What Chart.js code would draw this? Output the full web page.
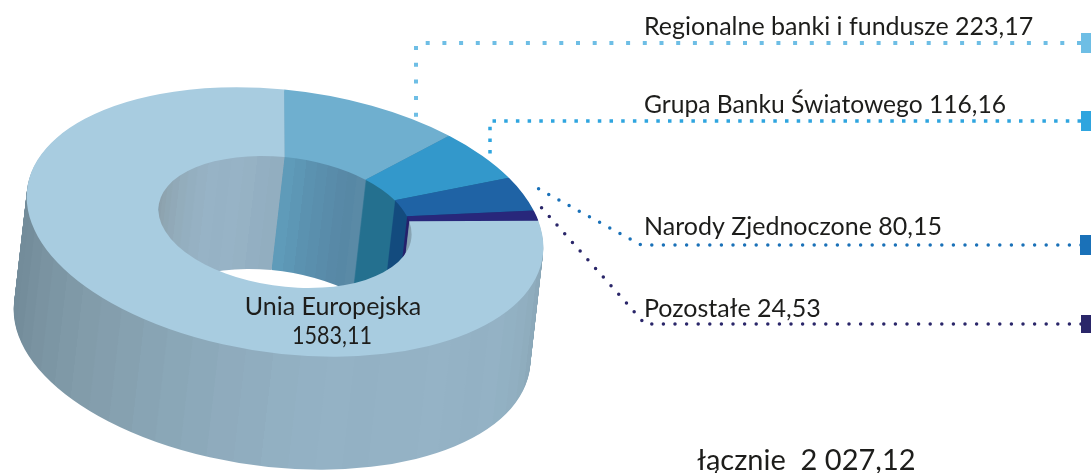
<!DOCTYPE html>
<html lang="pl">
<head>
<meta charset="utf-8">
<title>Wykres</title>
<script src="https://cdn.jsdelivr.net/npm/chart.js@4"></script>
<style>
  html, body { margin: 0; padding: 0; background: #fff; overflow: hidden; }
  canvas { display: block; }
</style>
</head>
<body>
<canvas id="chart-donut" width="1091" height="473"></canvas>
<script>
/* Chart values, clockwise from the top of the ring */
const categories = ['Regionalne banki i fundusze', 'Grupa Banku Światowego', 'Narody Zjednoczone', 'Pozostałe', 'Unia Europejska'];
const values = [223.17, 116.16, 80.15, 24.53, 1583.11];
const valueLabels = ['223,17', '116,16', '80,15', '24,53', '1583,11'];
const totalLabel = 'łącznie  2 027,12';

/* Colour palette */
const topColours = ['#6FAFCF', '#3398CB', '#1F63A5', '#28277B', '#A8CCE0'];
const leaderColours = ['#6EBEE5', '#2FA5DF', '#1A71B8', '#2A2669'];

/* Wall shades per slice, one hard band each, in slice order */
const wallShades = [
  ['#5f9bb9', '#5d97b5', '#5b92b0', '#5a8fad', '#598caa', '#5889a7', '#5788a5', '#5a8aa6'],
  ['#24708f'],
  ['#134b7e'],
  ['#25206b'],
  ['#86a2b1', '#88a4b4', '#8aa7b7', '#8ca9ba', '#8fadbe', '#91afc1', '#92b1c3', '#94b2c5',
   '#93b1c4', '#94b2c5', '#95b3c6', '#94b2c5', '#94b2c5', '#93b1c4', '#94b2c5', '#93b1c4',
   '#92b0c2', '#90adbf', '#8fabbd', '#8ca9ba', '#8aa7b7', '#88a4b4', '#86a1b0', '#849ead',
   '#829caa', '#7f99a7', '#7c96a4', '#7a93a1', '#77909e', '#748d9b', '#738c9a', '#738c9a',
   '#8a9ea9', '#8ca1ad', '#8ea4b0', '#8fa7b4', '#91a9b8', '#93adbc', '#94afc0', '#96b1c3',
   '#97b3c6', '#96b2c5', '#97b3c6', '#96b2c4', '#93afc2', '#92aec0']
];

/* Ring projection: ellipse centre, semi axes, tilt, extrusion */
const RING = { cx: 285, cy: 222, a: 260, b: 131.5, tilt: 7.5 * Math.PI / 180, dx: -13, dy: 113 };

function applyProjection(ctx, arc, dx, dy) {
  ctx.translate(RING.cx + dx, RING.cy + dy);
  ctx.rotate(RING.tilt);
  ctx.scale(RING.a / arc.outerRadius, RING.b / arc.outerRadius);
  ctx.translate(-arc.x, -arc.y);
}

function wallGradient(ctx, arc, shades) {
  const grad = ctx.createConicGradient(arc.startAngle, arc.x, arc.y);
  const span = (arc.endAngle - arc.startAngle) / (2 * Math.PI);
  shades.forEach(function(colour, i) {
    grad.addColorStop(i / shades.length * span, colour);
    grad.addColorStop((i + 1) / shades.length * span, colour);
  });
  return grad;
}

/* Dotted leader from the legend square back to the ring */
function leader(ctx, colour, width, dash, cap, points) {
  ctx.save();
  ctx.strokeStyle = colour;
  ctx.lineWidth = width;
  ctx.lineCap = cap;
  ctx.setLineDash(dash);
  ctx.beginPath();
  points.forEach(function(p, i) {
    if (i === 0) ctx.moveTo(p[0], p[1]);
    else ctx.lineTo(p[0], p[1]);
  });
  ctx.stroke();
  ctx.restore();
}

const ringPlugin = {
  id: 'ring3d',
  beforeDatasetsDraw: function(chart) {
    const ctx = chart.ctx;
    const arcs = chart.getDatasetMeta(0).data;

    leader(ctx, leaderColours[0], 4, [4, 12.7], 'butt', [[1081, 43], [416, 43], [416, 120]]);
    leader(ctx, leaderColours[1], 3.5, [3.5, 8.2], 'butt', [[1081, 121], [490, 121], [490, 156]]);
    leader(ctx, leaderColours[2], 3.5, [0, 11.6], 'round', [[1081, 245], [641, 245], [537, 188]]);
    leader(ctx, leaderColours[3], 3.5, [0, 11.6], 'round', [[1081, 324], [645, 324], [638, 316], [540, 206]]);

    ctx.fillStyle = leaderColours[0]; ctx.fillRect(1081, 33, 10, 20);
    ctx.fillStyle = leaderColours[1]; ctx.fillRect(1081, 111, 10, 20);
    ctx.fillStyle = leaderColours[2]; ctx.fillRect(1080, 235, 11, 20);
    ctx.fillStyle = leaderColours[3]; ctx.fillRect(1081, 315, 10, 18);

    /* Extrusion: copies of the slices stacked from the bottom up */
    const steps = RING.dy;
    for (let s = steps; s >= 1; s--) {
      const t = s / steps;
      ctx.save();
      applyProjection(ctx, arcs[0], RING.dx * t, RING.dy * t);
      arcs.forEach(function(arc, i) {
        const saved = arc.options;
        const wall = Object.create(saved);
        wall.backgroundColor = wallGradient(ctx, arc, wallShades[i]);
        wall.borderWidth = 0;
        arc.options = wall;
        arc.draw(ctx);
        arc.options = saved;
      });
      ctx.restore();
    }

    /* Top face goes through the same projection */
    ctx.save();
    applyProjection(ctx, arcs[0], 0, 0);
  },
  afterDatasetsDraw: function(chart) {
    const ctx = chart.ctx;
    ctx.restore();

    ctx.save();
    ctx.fillStyle = '#1d1d1b';
    ctx.font = '25px Lato';
    ctx.textBaseline = 'alphabetic';
    ctx.textAlign = 'left';
    ctx.fillText(categories[0] + ' ' + valueLabels[0], 644, 35);
    ctx.fillText(categories[1] + ' ' + valueLabels[1], 644, 113, 362);
    ctx.fillText(categories[2] + ' ' + valueLabels[2], 644, 235, 301);
    ctx.fillText(categories[3] + ' ' + valueLabels[3], 644, 317);
    ctx.font = '29px Lato';
    ctx.fillText(totalLabel, 697, 470);
    ctx.font = '25px Lato';
    ctx.textAlign = 'center';
    ctx.fillText(categories[4], 333, 315);
    ctx.fillText(valueLabels[4], 332, 344, 80);
    ctx.restore();
  }
};

new Chart(document.getElementById('chart-donut'), {
  type: 'doughnut',
  data: {
    labels: categories,
    datasets: [{
      data: values,
      backgroundColor: topColours,
      borderWidth: 0,
      clip: false
    }]
  },
  options: {
    responsive: false,
    animation: false,
    cutout: '49%',
    rotation: -4,
    events: [],
    layout: { padding: 0 },
    plugins: { legend: { display: false }, tooltip: { enabled: false } }
  },
  plugins: [ringPlugin]
});
</script>
</body>
</html>
